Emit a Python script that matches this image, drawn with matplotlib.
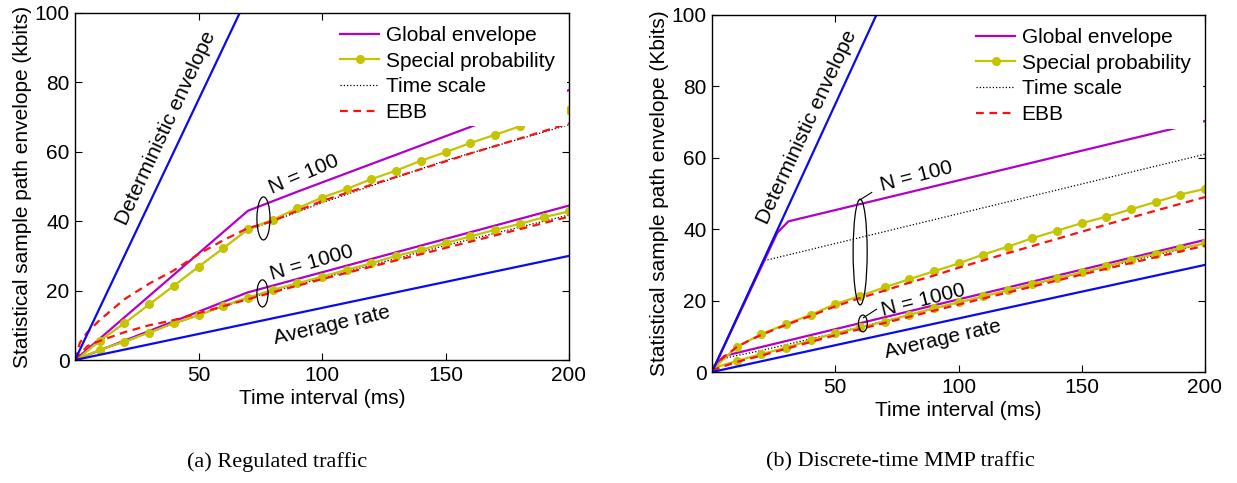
import matplotlib
matplotlib.use("Agg")
import matplotlib.pyplot as plt
from matplotlib.patches import Ellipse, Rectangle

plt.rcParams['font.family'] = ['Liberation Sans', 'DejaVu Sans']

# ---------------- data: (a) Regulated traffic ----------------
a_det_x = [0, 200]
a_det_y = [0, 300]
a_avg_x = [0, 200]
a_avg_y = [0, 30]

a_glob100_x = [0, 70, 90, 200]
a_glob100_y = [0, 43, 48.5, 77.8]
a_glob1000_x = [0, 70, 200]
a_glob1000_y = [0, 19.5, 44.5]

sp_x = [1, 10, 20, 30, 40, 50, 60, 70, 80, 90, 100, 110, 120, 130, 140, 150, 160, 170, 180, 190, 200]
a_sp100_y = [0.2, 5.6, 10.6, 16.0, 21.4, 26.9, 32.2, 37.7, 40.4, 43.7, 46.8, 49.3, 52.1, 54.6, 57.4, 59.9, 62.5, 64.9, 67.3, 69.7, 72.1]
a_sp1000_y = [0.2, 2.9, 5.3, 7.9, 10.6, 12.9, 15.6, 18.0, 20.2, 22.1, 24.0, 26.0, 27.9, 30.0, 31.7, 33.7, 35.6, 37.5, 39.2, 41.2, 42.8]

a_ts100_x = [0, 10, 20, 30, 40, 50, 60, 70, 80, 100, 150, 200]
a_ts100_y = [0, 5.4, 10.5, 15.9, 21.3, 26.8, 32.1, 37.5, 40.0, 45.3, 57.5, 67.8]
a_ts1000_x = [0, 10, 20, 40, 70, 100, 150, 200]
a_ts1000_y = [0, 2.8, 5.2, 10.4, 17.8, 23.6, 33.0, 41.8]

a_ebb100_x = [0, 2, 5, 10, 20, 30, 40, 50, 60, 70, 80, 90, 100, 120, 140, 160, 180, 200]
a_ebb100_y = [0, 5, 8, 11.5, 17.5, 22, 25.8, 30.5, 34.5, 38, 40, 43, 45.8, 50.5, 55, 59.5, 63.8, 68.2]
a_ebb1000_x = [0, 5, 10, 20, 30, 40, 50, 60, 70, 80, 100, 150, 200]
a_ebb1000_y = [0, 4, 5.5, 8, 10, 11.5, 13.5, 15.5, 17.5, 19.5, 23.3, 32.3, 41.3]

# ---------------- data: (b) Discrete-time MMP traffic ----------------
b_det_x = [0, 200]
b_det_y = [0, 300]
b_avg_x = [0, 200]
b_avg_y = [0, 30]

b_glob100_x = [0, 26.5, 31, 200]
b_glob100_y = [0, 39, 42.2, 70.3]
b_glob1000_x = [0, 5, 200]
b_glob1000_y = [1, 4.5, 37]

b_sp100_y = [1.2, 7.0, 10.6, 13.4, 16.0, 19.0, 21.3, 23.7, 26.0, 28.2, 30.4, 32.9, 35.1, 37.5, 39.6, 41.7, 43.5, 45.6, 47.6, 49.7, 51.3]
b_sp1000_y = [1.2, 3.1, 5.0, 6.8, 8.9, 10.8, 12.5, 14.1, 16.0, 17.9, 19.5, 21.2, 22.9, 24.6, 26.3, 27.9, 29.6, 31.5, 33.1, 34.7, 36.0]

b_ts100_x = [0, 20.7, 200]
b_ts100_y = [0, 31.1, 61.0]
b_ts1000_x = [0, 3, 10, 20, 50, 100, 150, 200]
b_ts1000_y = [0.8, 3.5, 4.6, 6.0, 10.9, 19.4, 27.8, 36.0]

b_ebb100_x = [0, 2, 5, 10, 15, 20, 30, 40, 50, 60, 70, 80, 90, 100, 120, 140, 160, 180, 200]
b_ebb100_y = [0.5, 2.6, 4.2, 7, 8.8, 10.4, 13.2, 15.7, 18.4, 20.7, 22.8, 25, 27, 29.2, 33.3, 37.3, 41.3, 45.2, 49]
b_ebb1000_x = [0, 10, 20, 50, 100, 150, 200]
b_ebb1000_y = [0.5, 2.8, 4.6, 10.3, 18.9, 27.3, 35.4]

x_ticks = [50, 100, 150, 200]
y_ticks = [0, 20, 40, 60, 80, 100]
legend_labels = ["Global envelope", "Special probability", "Time scale", "EBB"]

C_BLUE = "#0a0af0"
C_MAG = "#b300c8"
C_YEL = "#c4c400"
C_RED = "#ff1010"
FS = 15
LW = 1.6

fig = plt.figure(figsize=(12.37, 4.83), dpi=100)
axA = fig.add_axes([75/1237, 1-360/483, (569-75)/1237, (360-13)/483])
axB = fig.add_axes([712/1237, 1-372/483, (1205-712)/1237, (372-15)/483])


def draw(ax, det, avg, g100, g1000, sp100, sp1000, ts100, ts1000, e100, e1000, ylab, legbox):
    h_ts, = ax.plot(*ts100, color='k', ls=(0, (1, 1.6)), lw=0.9, zorder=2)
    ax.plot(*ts1000, color='k', ls=(0, (1, 1.6)), lw=0.9, zorder=2)
    h_g, = ax.plot(*g100, color=C_MAG, lw=LW, zorder=2)
    ax.plot(*g1000, color=C_MAG, lw=LW, zorder=2)
    h_sp, = ax.plot(sp_x, sp100, color=C_YEL, lw=LW, marker='o', ms=5.5, zorder=3)
    ax.plot(sp_x, sp1000, color=C_YEL, lw=LW, marker='o', ms=5.5, zorder=3)
    h_e, = ax.plot(*e100, color=C_RED, lw=LW, ls=(0, (3.5, 2.5)), zorder=3.5)
    ax.plot(*e1000, color=C_RED, lw=LW, ls=(0, (3.5, 2.5)), zorder=3.5)
    ax.plot(*det, color=C_BLUE, lw=LW, zorder=4)
    ax.plot(*avg, color=C_BLUE, lw=LW, zorder=4)
    ax.set_xlim(0, 200)
    ax.set_ylim(0, 100)
    ax.set_xticks(x_ticks)
    ax.set_yticks(y_ticks)
    ax.tick_params(direction='in', top=True, right=True, length=5, labelsize=FS, pad=4)
    ax.set_xlabel("Time interval (ms)", fontsize=FS, labelpad=3)
    ax.set_ylabel(ylab, fontsize=FS, labelpad=2)
    for s in ax.spines.values():
        s.set_linewidth(1.0)
        s.set_zorder(6)
    # white legend background (MATLAB legend box without border)
    x0, y0 = legbox
    ax.add_patch(Rectangle((x0, y0), 199.2 - x0, 100 - y0, facecolor='white',
                           edgecolor='none', zorder=4.8))
    leg = ax.legend([h_g, h_sp, h_ts, h_e], legend_labels, loc='upper right',
                    bbox_to_anchor=(0.997, 1.0), borderaxespad=0, fontsize=FS,
                    frameon=False, handlelength=1.9, handletextpad=0.3,
                    labelspacing=0.32, borderpad=0.62)
    leg.set_zorder(5)


draw(axA, (a_det_x, a_det_y), (a_avg_x, a_avg_y), (a_glob100_x, a_glob100_y),
     (a_glob1000_x, a_glob1000_y), a_sp100_y, a_sp1000_y, (a_ts100_x, a_ts100_y),
     (a_ts1000_x, a_ts1000_y), (a_ebb100_x, a_ebb100_y), (a_ebb1000_x, a_ebb1000_y),
     "Statistical sample path envelope (kbits)", (104, 67.3))
draw(axB, (b_det_x, b_det_y), (b_avg_x, b_avg_y), (b_glob100_x, b_glob100_y),
     (b_glob1000_x, b_glob1000_y), b_sp100_y, b_sp1000_y, (b_ts100_x, b_ts100_y),
     (b_ts1000_x, b_ts1000_y), (b_ebb100_x, b_ebb100_y), (b_ebb1000_x, b_ebb1000_y),
     "Statistical sample path envelope (Kbits)", (93, 68.0))

# annotations (a)
axA.text(37, 66.8, "Deterministic envelope", rotation=65, fontsize=FS, ha='center', va='center')
axA.text(104, 10.1, "Average rate", rotation=13, fontsize=FS, ha='center', va='center')
axA.text(92.6, 53.4, "N = 100", rotation=23, fontsize=FS, ha='center', va='center')
axA.text(95.8, 27.9, "N = 1000", rotation=16, fontsize=FS, ha='center', va='center')
axA.add_patch(Ellipse((76.3, 40.8), 5.3, 12.4, fill=False, ec='k', lw=0.9, zorder=6))
axA.add_patch(Ellipse((75.9, 19.2), 4.5, 7.8, fill=False, ec='k', lw=0.9, zorder=6))

# annotations (b)
axB.text(38.6, 68.6, "Deterministic envelope", rotation=65, fontsize=FS, ha='center', va='center')
axB.text(93.6, 9.2, "Average rate", rotation=13, fontsize=FS, ha='center', va='center')
axB.text(83.0, 54.7, "N = 100", rotation=14.5, fontsize=FS, ha='center', va='center')
axB.text(85.7, 20.2, "N = 1000", rotation=14, fontsize=FS, ha='center', va='center')
axB.add_patch(Ellipse((60.1, 33.6), 5.7, 29.6, fill=False, ec='k', lw=0.9, zorder=6))
axB.add_patch(Ellipse((61.2, 13.6), 3.6, 4.7, fill=False, ec='k', lw=0.9, zorder=6))
axB.plot([60.0, 64.8], [48.2, 50.3], color='k', lw=0.8, zorder=6)
axB.plot([61.4, 66.8], [15.2, 17.6], color='k', lw=0.8, zorder=6)

fig.text(277/1237, 1-462/483, "(a) Regulated traffic", ha='center', va='center',
         fontsize=16, family=['Liberation Serif', 'DejaVu Serif'])
fig.text(900/1237, 1-462/483, "(b) Discrete-time MMP traffic", ha='center', va='center',
         fontsize=16, family=['Liberation Serif', 'DejaVu Serif'])

fig.savefig("out.png", dpi=100)
